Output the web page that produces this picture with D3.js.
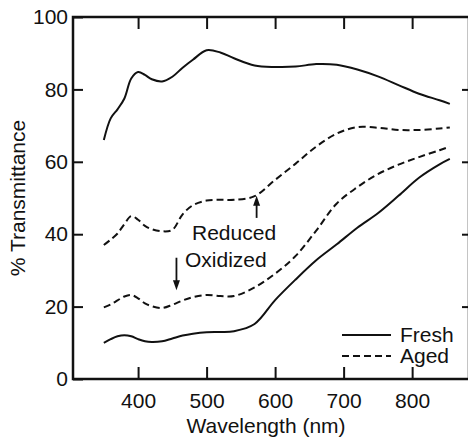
<!DOCTYPE html>
<html>
<head>
<meta charset="utf-8">
<script src="https://cdn.jsdelivr.net/npm/d3@7"></script>
<style>
  html, body { margin: 0; padding: 0; background: #fff; }
  svg { display: block; font-family: "Liberation Sans", Arial, Helvetica, sans-serif; }
</style>
</head>
<body>
<div id="chart"></div>
<script>
// wavelength grid (nm)
const wavelengths = [350, 360, 370, 380, 390, 400, 410, 420, 435, 450, 465, 480, 500,
  520, 540, 570, 600, 630, 660, 690, 720, 750, 780, 810, 840, 855];

// % transmittance
const freshReduced = [66, 72, 74.5, 77.5, 83, 84.8, 84, 82.8, 82.2, 83.5, 86, 88.2, 90.8,
  90.2, 88.6, 86.6, 86.2, 86.3, 87, 86.8, 85.5, 83.6, 81.2, 78.8, 77, 76];
const agedReduced = [37, 38.5, 40.2, 42.8, 45, 44, 42.3, 41.4, 40.8, 41.2, 45.5, 48, 49.3,
  49.5, 49.5, 50.5, 55, 59.5, 64.2, 67.8, 69.6, 69.4, 68.8, 68.8, 69.2, 69.5];
const agedOxidized = [19.8, 20.6, 21.7, 22.8, 23.2, 22.3, 20.9, 20.1, 19.6, 20.5, 21.7, 22.6, 23.2,
  22.9, 22.9, 25.3, 29.1, 34, 41, 48.5, 53, 56.6, 59.2, 61.3, 63.2, 64.2];
const freshOxidized = [10, 11, 11.8, 12.1, 11.8, 11, 10.4, 10.2, 10.4, 11.2, 12, 12.5, 12.9,
  13, 13.2, 15.2, 21.8, 27.5, 32.8, 37.2, 41.8, 45.8, 50.6, 55.6, 59.3, 60.8];

const xTicks = [400, 500, 600, 700, 800];
const yTicks = [0, 20, 40, 60, 80, 100];

const series = [
  { name: "Fresh", values: freshReduced, dash: null },
  { name: "Aged", values: agedReduced, dash: "7,4" },
  { name: "Aged", values: agedOxidized, dash: "7,4" },
  { name: "Fresh", values: freshOxidized, dash: null },
];

const width = 468, height = 438;
const plotLeft = 73, plotRight = 469, plotTop = 17, plotBottom = 379;

const svg = d3.select("#chart").append("svg")
  .attr("width", width)
  .attr("height", height);

// 1. SCALES
const x = d3.scaleLinear().domain([305, 883]).range([plotLeft, plotRight]);
const y = d3.scaleLinear().domain([0, 100]).range([plotBottom, plotTop]);

// 2. AXES (ticks point inward, frame on all sides)
const fontSize = "21px";

svg.append("g")
  .attr("transform", `translate(0,${plotBottom})`)
  .call(d3.axisBottom(x).tickValues(xTicks).tickSize(-12).tickPadding(14))
  .call(g => g.select(".domain").remove());

svg.append("g")
  .attr("transform", `translate(0,${plotTop})`)
  .call(d3.axisTop(x).tickValues(xTicks).tickSize(-12).tickFormat(""))
  .call(g => g.select(".domain").remove());

svg.append("g")
  .attr("transform", `translate(${plotLeft},0)`)
  .call(d3.axisLeft(y).tickValues(yTicks).tickSize(-10).tickPadding(5))
  .call(g => g.select(".domain").remove());

svg.append("g")
  .attr("transform", `translate(${plotRight},0)`)
  .call(d3.axisRight(y).tickValues(yTicks.slice(1, -1)).tickSize(-7).tickFormat(""))
  .call(g => g.select(".domain").remove());

svg.selectAll(".tick line").attr("stroke", "#111").attr("stroke-width", 2);
svg.selectAll(".tick text")
  .attr("fill", "#111")
  .style("font-size", fontSize);

// frame
svg.append("rect")
  .attr("x", plotLeft)
  .attr("y", plotTop)
  .attr("width", plotRight - plotLeft)
  .attr("height", plotBottom - plotTop)
  .attr("fill", "none")
  .attr("stroke", "#111")
  .attr("stroke-width", 2.5);

// 3. CURVES
const line = d3.line()
  .x((d, i) => x(wavelengths[i]))
  .y(d => y(d))
  .curve(d3.curveCatmullRom.alpha(0.5));

svg.append("g")
  .selectAll("path")
  .data(series)
  .enter()
  .append("path")
  .attr("d", d => line(d.values))
  .attr("fill", "none")
  .attr("stroke", "#111")
  .attr("stroke-width", 2)
  .attr("stroke-dasharray", d => d.dash);

// 4. AXIS TITLES
svg.append("text")
  .attr("x", 266)
  .attr("y", 433)
  .attr("text-anchor", "middle")
  .attr("fill", "#111")
  .style("font-size", fontSize)
  .text("Wavelength (nm)");

svg.append("text")
  .attr("transform", "rotate(-90)")
  .attr("x", -198)
  .attr("y", 25)
  .attr("text-anchor", "middle")
  .attr("fill", "#111")
  .style("font-size", fontSize)
  .text("% Transmittance");

// 5. ANNOTATIONS
const arrow = (wl, from, to) => {
  const x0 = x(wl), y0 = y(from), y1 = y(to);
  const dir = y1 < y0 ? 1 : -1;
  svg.append("line")
    .attr("x1", x0).attr("x2", x0)
    .attr("y1", y0).attr("y2", y1 + dir * 6)
    .attr("stroke", "#111")
    .attr("stroke-width", 1.8);
  svg.append("path")
    .attr("d", `M${x0},${y1} L${x0 - 3.5},${y1 + dir * 10} L${x0 + 3.5},${y1 + dir * 10} Z`)
    .attr("fill", "#111");
};

arrow(573, 44.5, 50.6);
arrow(456, 33.5, 24.5);

svg.append("text")
  .attr("x", 192)
  .attr("y", 240)
  .attr("fill", "#111")
  .style("font-size", fontSize)
  .text("Reduced");

svg.append("text")
  .attr("x", 185)
  .attr("y", 267)
  .attr("fill", "#111")
  .style("font-size", fontSize)
  .text("Oxidized");

// 6. LEGEND
const legendItems = [
  { label: "Fresh", dash: null },
  { label: "Aged", dash: "7,4" },
];

const legend = svg.append("g").attr("transform", "translate(342, 335)");

legend.selectAll("g")
  .data(legendItems)
  .enter()
  .append("g")
  .attr("transform", (d, i) => `translate(0, ${i * 21})`)
  .each(function (d) {
    const g = d3.select(this);
    g.append("line")
      .attr("x1", 0).attr("x2", 49)
      .attr("y1", 0).attr("y2", 0)
      .attr("stroke", "#111")
      .attr("stroke-width", 2)
      .attr("stroke-dasharray", d.dash);
    g.append("text")
      .attr("x", 58)
      .attr("y", 7)
      .attr("fill", "#111")
      .style("font-size", fontSize)
      .text(d.label);
  });
</script>
</body>
</html>
